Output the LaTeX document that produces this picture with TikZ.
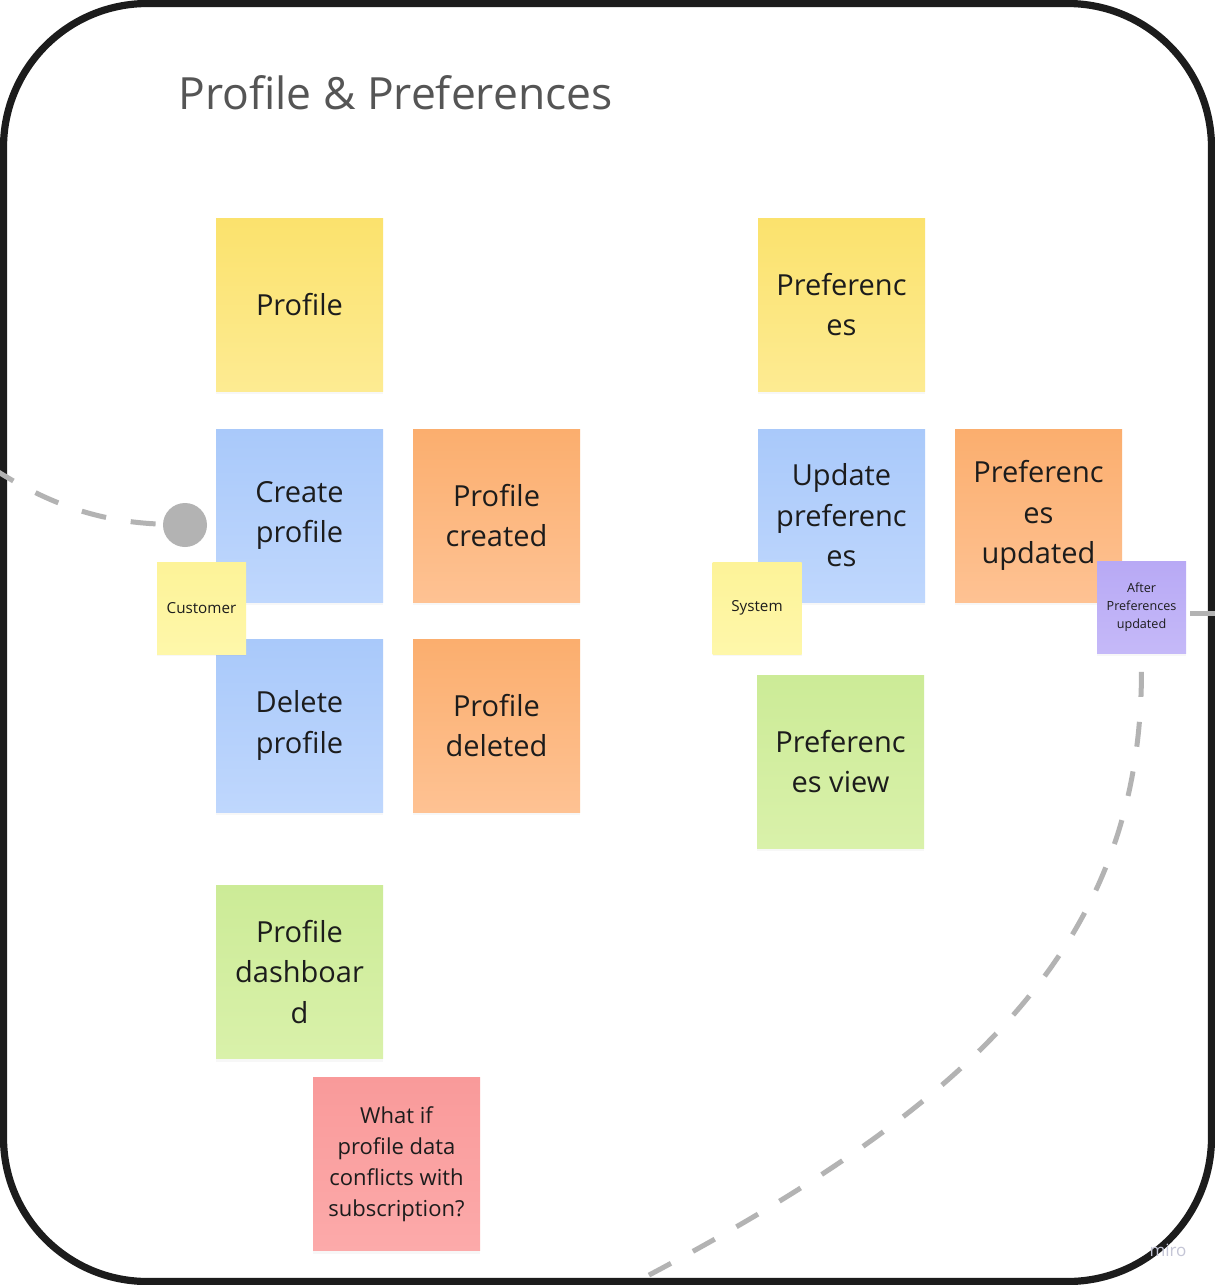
\documentclass[tikz,border=0pt]{standalone}
\usepackage{fontspec}
\setmainfont{Open Sans}
\usetikzlibrary{shadows}

\definecolor{yellowtop}{HTML}{FBE26D}
\definecolor{yellowbot}{HTML}{FDEB92}
\definecolor{bluetop}{HTML}{A9C9FA}
\definecolor{bluebot}{HTML}{BFD7FD}
\definecolor{orangetop}{HTML}{FBAE6E}
\definecolor{orangebot}{HTML}{FEC293}
\definecolor{greentop}{HTML}{CCEB97}
\definecolor{greenbot}{HTML}{D9F1AA}
\definecolor{pinktop}{HTML}{F99A9A}
\definecolor{pinkbot}{HTML}{FCAAAA}
\definecolor{paletop}{HTML}{FDF398}
\definecolor{palebot}{HTML}{FEF7AA}
\definecolor{purpletop}{HTML}{B8A9F5}
\definecolor{purplebot}{HTML}{C5B9F8}
\definecolor{dashgrey}{HTML}{B3B3B3}
\definecolor{titlegrey}{HTML}{555555}
\definecolor{inkblack}{HTML}{1C1C1C}
\definecolor{marklilac}{HTML}{C4C5D6}

\begin{document}
\begin{tikzpicture}[x=0.5pt,y=-0.5pt]

\tikzset{sticky/.style = {rectangle, minimum width=83.5pt, minimum height=86.5pt, inner sep=0pt,
    align=center, text=inkblack, font=\fontsize{14.5}{20.3}\selectfont,
    drop shadow={shadow xshift=0pt, shadow yshift=-1.5pt, opacity=0.06}}}
\tikzset{tag/.style = {rectangle, minimum width=44.5pt, minimum height=46pt, inner sep=0pt,
    align=center, text=inkblack, top color=paletop, bottom color=palebot,
    drop shadow={shadow xshift=0pt, shadow yshift=-1pt, opacity=0.06}}}
\tikzset{yellownote/.style = {top color=yellowtop, bottom color=yellowbot}}
\tikzset{bluenote/.style = {top color=bluetop, bottom color=bluebot}}
\tikzset{orangenote/.style = {top color=orangetop, bottom color=orangebot}}
\tikzset{greennote/.style = {top color=greentop, bottom color=greenbot}}
\tikzset{pinknote/.style = {top color=pinktop, bottom color=pinkbot}}
\tikzset{dashline/.style = {draw=dashgrey, line width=2.5pt, dash pattern=on 12.5pt off 12.5pt}}

\useasboundingbox (0,0) rectangle (1215,1285);
\fill[white] (0,0) rectangle (1215,1285);
%frame
\draw[inkblack, line width=3.6pt, rounded corners=72pt] (3.5,3.5) rectangle (1211.5,1281.5);
\node[anchor=base west, text=titlegrey, font=\fontsize{22.2}{27}\selectfont, inner sep=0pt]
  (title) at (178,109) {Profile \& Preferences};

%stickies
\node[sticky, yellownote] (profile) at (299.5,304.5) {Profile};
\node[sticky, yellownote] (prefs) at (841.5,304.5) {Preferenc\\es};
\node[sticky, bluenote] (createprofile) at (299.5,515.5) {Create\\profile};
\node[sticky, orangenote] (profilecreated) at (496.5,515.5) {Profile\\created};
\node[sticky, bluenote] (deleteprofile) at (299.5,725.5) {Delete\\profile};
\node[sticky, orangenote] (profiledeleted) at (496.5,725.5) {Profile\\deleted};
\node[sticky, greennote] (dashboard) at (299.5,972) {Profile\\dashboar\\d};
\node[sticky, pinknote, font=\fontsize{11}{15.5}\selectfont] (whatif) at (396.5,1164)
  {What if\\profile data\\conflicts with\\subscription?};
\node[sticky, bluenote] (updateprefs) at (841.5,515.5) {Update\\preferenc\\es};
\node[sticky, orangenote] (prefsupdated) at (1038.5,515.5) {Preferenc\\es\\updated};
\node[sticky, greennote] (prefsview) at (840.5,761.5) {Preferenc\\es view};

%small notes
\node[tag, font=\fontsize{7.6}{9}\selectfont] (customer) at (201.5,608) {Customer};
\node[tag, font=\fontsize{7.6}{9}\selectfont] (system) at (757,608) {System};
\node[tag, top color=purpletop, bottom color=purplebot, font=\fontsize{6.3}{9}\selectfont]
  (after) at (1141.5,607.5) {After\\Preferences\\updated};
\node[circle, fill=dashgrey, minimum size=22pt, inner sep=0pt] (actor) at (185,525) {};

%edges
\coordinate (leftend) at (-8,468);
\coordinate (rightend) at (1225,613);
\coordinate (bottomend) at (632,1284);
\draw[dashline] (leftend) .. controls (50,505) and (100,522) .. (actor);
\draw[dashline] (after.east |- rightend) ++(4,0) -- (rightend);
\draw[dashline, shorten <=9pt] (after.south) .. controls (1141,950) and (965,1110) .. (bottomend);

\node[text=marklilac, font=\fontsize{8.5}{10}\selectfont] (miro) at (1168,1250) {miro};

\end{tikzpicture}
\end{document}
